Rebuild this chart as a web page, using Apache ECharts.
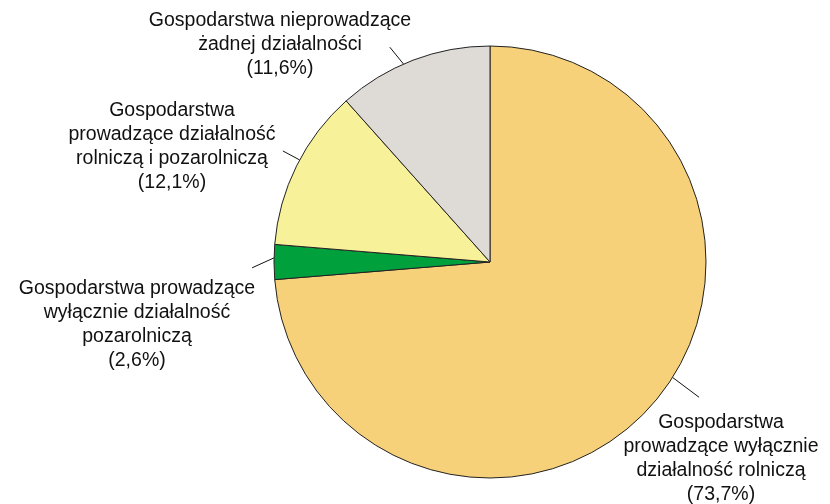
<!DOCTYPE html>
<html><head><meta charset="utf-8">
<script src="https://cdn.jsdelivr.net/npm/echarts@6/dist/echarts.min.js"></script>
<style>html,body{margin:0;padding:0;background:#fff}#c{width:830px;height:504px}</style>
</head><body><div id="c"></div>
<script>
const categories = [
  'Gospodarstwa\nprowadzące wyłącznie\ndziałalność rolniczą',
  'Gospodarstwa prowadzące\nwyłącznie działalność\npozarolniczą',
  'Gospodarstwa\nprowadzące działalność\nrolniczą i pozarolniczą',
  'Gospodarstwa nieprowadzące\nżadnej działalności'
];
const values = [73.7, 2.6, 12.1, 11.6];
const colors = ['#F7D07A', '#00A03C', '#F7F29A', '#DEDBD6'];

// layout only: label centre, leader line [startAngle, startR, endAngle, endR]
const CX = 490, CY = 262, R = 216;
const labelPos = [[721, 459], [137, 325], [172, 147], [280, 45]];
const leader = [[-32.3, R, -32.9, 249], [178.9, R, 181.4, 238], [151.8, R, 151.8, 235], [113.6, R, 115, 237]];
const pt = (a, r) => [CX + r * Math.cos(a * Math.PI / 180), CY - r * Math.sin(a * Math.PI / 180)];

const chart = echarts.init(document.getElementById('c'));
chart.setOption({
  animation: false,
  series: [{
    type: 'pie',
    center: [CX, CY],
    radius: R,
    startAngle: 90,
    clockwise: true,
    avoidLabelOverlap: false,
    data: categories.map((n, i) => ({
      name: n, value: values[i],
      itemStyle: { color: colors[i] }
    })),
    itemStyle: { borderColor: '#222', borderWidth: 1 },
    label: {
      show: true,
      formatter: p => p.name + '\n(' + p.value.toFixed(1).replace('.', ',') + '%)',
      fontFamily: 'Liberation Sans, Arial, sans-serif',
      fontSize: 19.5,
      lineHeight: 24,
      color: '#111',
      align: 'center'
    },
    labelLine: { show: true, length: 10, length2: 10, lineStyle: { color: '#111', width: 1 } },
    labelLayout: p => {
      const l = leader[p.dataIndex];
      const a = pt(l[0], l[1]), b = pt(l[2], l[3]);
      return {
        x: labelPos[p.dataIndex][0],
        y: labelPos[p.dataIndex][1],
        align: 'center',
        verticalAlign: 'middle',
        labelLinePoints: [a, b, b]
      };
    }
  }]
});
</script></body></html>
